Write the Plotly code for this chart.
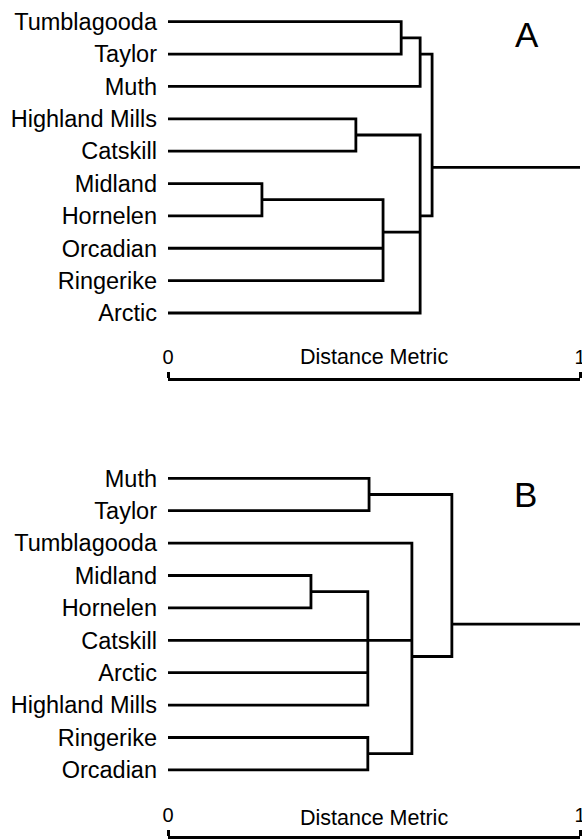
import plotly.graph_objects as go

# ---------------- data ----------------
LEAVES_A = ["Tumblagooda", "Taylor", "Muth", "Highland Mills", "Catskill",
            "Midland", "Hornelen", "Orcadian", "Ringerike", "Arctic"]
MERGE_NAMES_A = ["a1", "a2", "a3", "a4", "a5", "a6", "rootA"]
MERGE_MEMBERS_A = [["Tumblagooda", "Taylor"],
                   ["a1", "Muth"],
                   ["Highland Mills", "Catskill"],
                   ["Midland", "Hornelen"],
                   ["a4", "Orcadian", "Ringerike"],
                   ["a3", "a5", "Arctic"],
                   ["a2", "a6"]]
MERGE_HEIGHTS_A = [0.566, 0.612, 0.456, 0.228, 0.522, 0.612, 0.641]

LEAVES_B = ["Muth", "Taylor", "Tumblagooda", "Midland", "Hornelen",
            "Catskill", "Arctic", "Highland Mills", "Ringerike", "Orcadian"]
MERGE_NAMES_B = ["b1", "b2", "b3", "b4", "b5", "rootB"]
MERGE_MEMBERS_B = [["Muth", "Taylor"],
                   ["Midland", "Hornelen"],
                   ["b2", "Catskill", "Arctic", "Highland Mills"],
                   ["Ringerike", "Orcadian"],
                   ["Tumblagooda", "b3", "b4"],
                   ["b1", "b5"]]
MERGE_HEIGHTS_B = [0.488, 0.347, 0.485, 0.485, 0.592, 0.689]

ROOT_STEM_END = 1.0
SCALE_TICKS = [0, 1]
SCALE_TICK_TEXT = ["0", "1"]
AXIS_TITLE = "Distance Metric"
PANEL_LABELS = ["A", "B"]

FONT = "Liberation Sans, Arial, sans-serif"
LW = 2.8


def dendro_path(leaves, names, members, heights, stem_end):
    ypos = {lf: float(i) for i, lf in enumerate(leaves)}
    xpos = {lf: 0.0 for lf in leaves}
    leafset = {lf: [i] for i, lf in enumerate(leaves)}
    xs, ys = [], []
    for name, mem, h in zip(names, members, heights):
        first, last = mem[0], mem[-1]
        xs += [xpos[first], h, h, xpos[last], None]
        ys += [ypos[first], ypos[first], ypos[last], ypos[last], None]
        for m in mem[1:-1]:
            xs += [xpos[m], h, None]
            ys += [ypos[m], ypos[m], None]
        idx = sum((leafset[m] for m in mem), [])
        leafset[name] = idx
        ypos[name] = sum(idx) / len(idx)
        xpos[name] = h
    root = names[-1]
    xs += [xpos[root], stem_end, None]
    ys += [ypos[root], ypos[root], None]
    return xs, ys


xa, ya = dendro_path(LEAVES_A, MERGE_NAMES_A, MERGE_MEMBERS_A, MERGE_HEIGHTS_A, ROOT_STEM_END)
xb, yb = dendro_path(LEAVES_B, MERGE_NAMES_B, MERGE_MEMBERS_B, MERGE_HEIGHTS_B, ROOT_STEM_END)

fig = go.Figure()
fig.add_trace(go.Scatter(x=xa, y=ya, mode="lines", xaxis="x", yaxis="y",
                         line=dict(color="black", width=LW), hoverinfo="skip",
                         showlegend=False))
fig.add_trace(go.Scatter(x=xb, y=yb, mode="lines", xaxis="x2", yaxis="y2",
                         line=dict(color="black", width=LW), hoverinfo="skip",
                         showlegend=False))

W, H = 582, 840
X0, X1 = 168 / W, 580 / W


def xaxis_cfg(pos):
    return dict(domain=[X0, X1], range=[0, 1], anchor="free", position=pos,
                side="top", showgrid=False, zeroline=False, automargin=False,
                showline=True, linecolor="black", linewidth=3,
                ticks="outside", ticklen=6, tickwidth=3, tickcolor="black",
                tickvals=SCALE_TICKS, ticktext=SCALE_TICK_TEXT,
                tickfont=dict(family=FONT, size=20, color="black"),
                ticklabelstandoff=0, ticklabeloverflow="allow",
                fixedrange=True)


def yaxis_cfg(dom, leaves, anchor):
    return dict(domain=dom, range=[len(leaves) - 0.5, -0.5], anchor=anchor,
                showgrid=False, zeroline=False, showline=False, ticks="",
                automargin=False,
                tickvals=list(range(len(leaves))), ticktext=leaves,
                tickfont=dict(family=FONT, size=23.5, color="black"),
                ticklabelstandoff=10, ticklabeloverflow="allow",
                fixedrange=True)


fig.update_layout(
    width=W, height=H,
    margin=dict(l=0, r=0, t=0, b=0, autoexpand=False),
    paper_bgcolor="white", plot_bgcolor="white",
    showlegend=False,
    xaxis=xaxis_cfg(1 - 379 / H),
    xaxis2=xaxis_cfg(1 - 837 / H),
    yaxis=yaxis_cfg([1 - 329.2 / H, 1 - 5.5 / H], LEAVES_A, "x"),
    yaxis2=yaxis_cfg([1 - 786.1 / H, 1 - 462.1 / H], LEAVES_B, "x2"),
)

for xref, ypix in [("x", 357), ("x2", 818)]:
    fig.add_annotation(text=AXIS_TITLE, x=0.5, xref=xref, y=1 - ypix / H, yref="paper",
                       showarrow=False, xanchor="center", yanchor="middle",
                       font=dict(family=FONT, size=21.5, color="black"))

for lab, (px, py) in zip(PANEL_LABELS, [(527, 35), (525, 494)]):
    fig.add_annotation(text=lab, x=px / W, y=1 - py / H, xref="paper", yref="paper",
                       showarrow=False, xanchor="center", yanchor="middle",
                       font=dict(family=FONT, size=35, color="black"))

fig.write_html("out.html",
               config={"displayModeBar": False, "staticPlot": True},
               post_script="document.body.style.margin='0';"
                           "document.body.style.overflow='hidden';")
